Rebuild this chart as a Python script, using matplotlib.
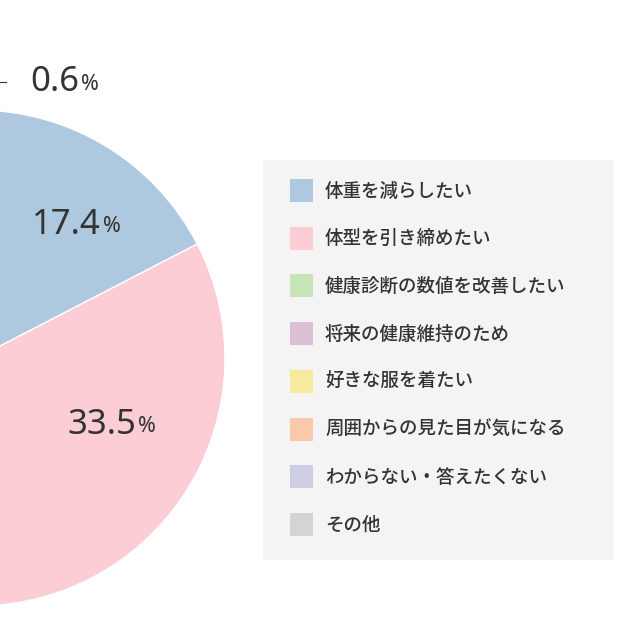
import matplotlib
matplotlib.use("Agg")
import matplotlib.pyplot as plt
from matplotlib.patches import Rectangle
import numpy as np

plt.rcParams['font.family'] = ['Noto Sans CJK JP', 'DejaVu Sans']

categories = ["体重を減らしたい", "体型を引き締めたい", "健康診断の数値を改善したい",
              "将来の健康維持のため", "好きな服を着たい", "周囲からの見た目が気になる",
              "わからない・答えたくない", "その他"]
values = [17.4, 33.5, 12.0, 18.5, 8.2, 7.1, 2.7, 0.6]
colors = ["#aec8df", "#fdcdd6", "#c8e5b8", "#dcc1d6", "#f7ea9e", "#f8caa9", "#cdcde4", "#d4d4d4"]

fig = plt.figure(figsize=(6.4, 6.4), dpi=100)
ax = fig.add_axes([0, 0, 1, 1])

cx, cy, R = -23, 282, 248
ax.pie(values, colors=colors, startangle=90, counterclock=False, center=(cx, cy),
       radius=R, wedgeprops=dict(edgecolor='white', linewidth=1), frame=True)
ax.set_xlim(0, 640); ax.set_ylim(0, 640); ax.set_aspect('equal'); ax.axis('off')

tc = "#333333"
def pct(x, y, v, fs=25):
    ax.text(x, y, f"{v}", fontsize=fs, color=tc, ha='right', va='center',
            family='Noto Sans', fontweight='medium')
    ax.text(x + 2, y - 2, "%", fontsize=fs * 0.62, color=tc, ha='left', va='center',
            family='Noto Sans', fontweight='medium')

pct(101, 415, values[0])
pct(136, 215, values[1])
pct(79, 558, values[7])
ax.plot([-5, 6], [558, 558], color=tc, lw=0.8)

# legend box
ax.add_patch(Rectangle((263, 80), 350, 400, facecolor="#f4f4f4", edgecolor='none'))
for i, (c, lab) in enumerate(zip(categories, colors)):
    y = 640 - (191 + i * 47.7)
    ax.add_patch(Rectangle((290, y - 11), 23, 23, facecolor=lab, edgecolor='none'))
    ax.text(325, y, c, fontsize=13.3, color=tc, va='center', ha='left', fontweight='medium')

fig.savefig("out.png", dpi=100)
